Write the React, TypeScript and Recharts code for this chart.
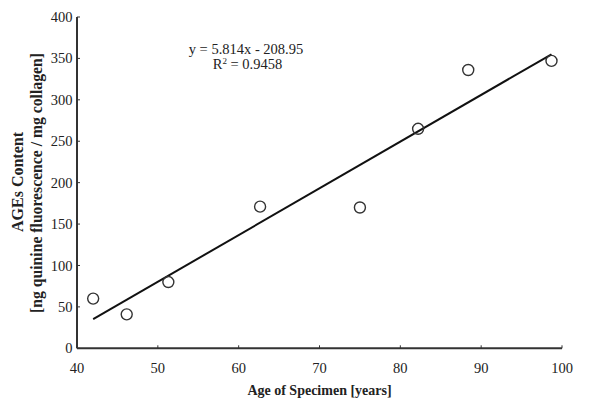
import React from "react";
import { ScatterChart, Scatter, XAxis, YAxis, Customized } from "recharts";

const ages = [42.0, 46.15, 51.3, 62.65, 75.0, 82.2, 88.4, 98.7];
const agesContent = [60, 41, 80, 171, 170, 265, 336, 347];
const xTicks = [40, 50, 60, 70, 80, 90, 100];
const yTicks = [0, 50, 100, 150, 200, 250, 300, 350, 400];
const fitStart = { x: 42.0, y: 35.2 };
const fitEnd = { x: 98.7, y: 355.0 };

const points = ages.map((a, i) => ({ x: a, y: agesContent[i] }));
const fitLine = [fitStart, fitEnd];

const FONT = "'Liberation Serif', 'DejaVu Serif', serif";
const INK = "#222";

const XTick = (props: any) => {
  const { x, y, payload } = props;
  return (
    <g>
      <line x1={x} y1={y} x2={x} y2={y - 3} stroke="#333" strokeWidth={1} />
      <text x={x} y={y + 25} textAnchor="middle" fontFamily={FONT} fontSize={14.5} fill={INK}>
        {payload.value}
      </text>
    </g>
  );
};

const YTick = (props: any) => {
  const { x, y, payload } = props;
  return (
    <g>
      <line x1={x} y1={y} x2={x + 3} y2={y} stroke="#333" strokeWidth={1} />
      <text x={x - 4.5} y={y} dy="0.35em" textAnchor="end" fontFamily={FONT} fontSize={14.5} fill={INK}>
        {payload.value}
      </text>
    </g>
  );
};

const Circle = (props: any) => {
  const { cx, cy } = props;
  return <circle cx={cx} cy={cy} r={5.5} fill="none" stroke="#333" strokeWidth={1.4} />;
};

const Nothing = () => <g />;

const Annotations = () => (
  <g fontFamily={FONT} fill={INK}>
    <text x={246} y={54} textAnchor="middle" fontSize={14.5}>
      y = 5.814x - 208.95
    </text>
    <text x={247.5} y={69} textAnchor="middle" fontSize={14.5}>
      R<tspan fontSize={9} dy={-5}>2</tspan>
      <tspan dy={5}> = 0.9458</tspan>
    </text>
    <text x={319.5} y={394.5} textAnchor="middle" fontSize={14} fontWeight="bold">
      Age of Specimen [years]
    </text>
    <text transform="rotate(-90)" x={-182} y={23} textAnchor="middle" fontSize={16} fontWeight="bold">
      AGEs Content
    </text>
    <text transform="rotate(-90)" x={-183} y={42} textAnchor="middle" fontSize={15.7} fontWeight="bold">
      [ng quinine fluorescence / mg collagen]
    </text>
  </g>
);

export default function App() {
  return (
    <div style={{ position: "absolute", left: 0, top: 0, width: 600, height: 411, background: "#fff" }}>
      <ScatterChart width={600} height={411} margin={{ top: 17, right: 38, left: 0, bottom: 0 }}>
        <XAxis
          type="number"
          dataKey="x"
          domain={[40, 100]}
          ticks={xTicks}
          interval={0}
          height={62.7}
          tickSize={0}
          tickMargin={0}
          tickLine={false}
          tick={<XTick />}
          axisLine={{ stroke: "#333", strokeWidth: 2 }}
          allowDataOverflow
        />
        <YAxis
          type="number"
          dataKey="y"
          domain={[0, 400]}
          ticks={yTicks}
          interval={0}
          width={77}
          tickSize={0}
          tickMargin={0}
          tickLine={false}
          tick={<YTick />}
          axisLine={{ stroke: "#333", strokeWidth: 2 }}
          allowDataOverflow
        />
        <Scatter
          data={fitLine}
          line={{ stroke: "#111", strokeWidth: 2 }}
          shape={<Nothing />}
          isAnimationActive={false}
        />
        <Scatter data={points} shape={<Circle />} isAnimationActive={false} />
        <Customized component={<Annotations />} />
      </ScatterChart>
    </div>
  );
}
